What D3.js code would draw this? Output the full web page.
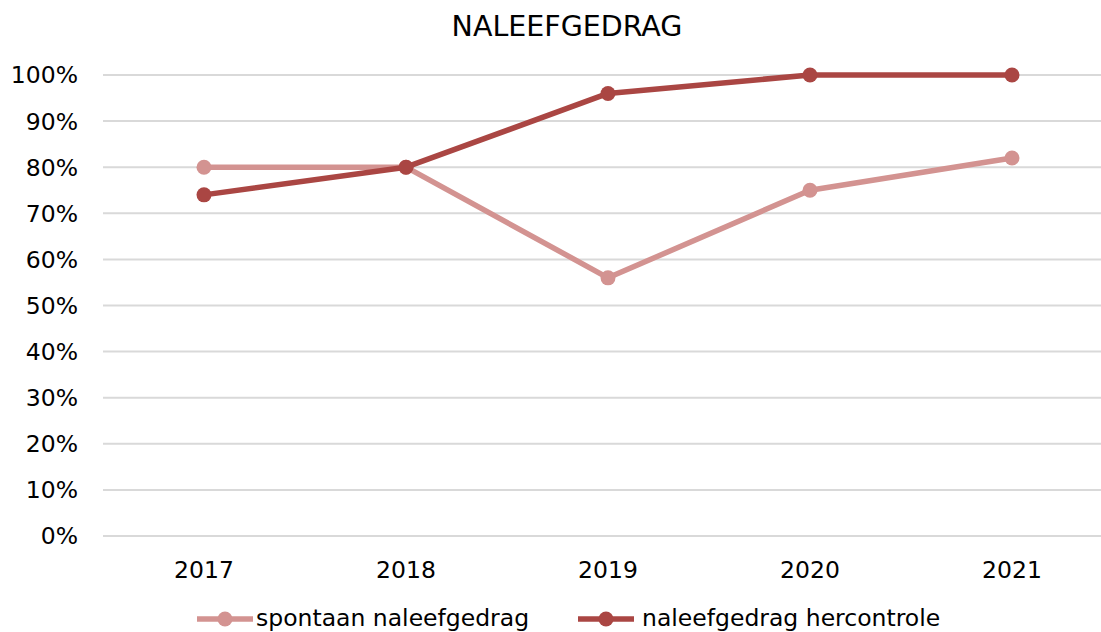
<!DOCTYPE html>
<html>
<head>
<meta charset="utf-8">
<script src="https://cdn.jsdelivr.net/npm/d3@7"></script>
<style>
  html, body { margin: 0; padding: 0; background: #fff; overflow: hidden; }
  svg { display: block; }
</style>
</head>
<body>
<script>
const title = "NALEEFGEDRAG";
const years = ["2017", "2018", "2019", "2020", "2021"];
const spontaan = [80, 80, 56, 75, 82];
const hercontrole = [74, 80, 96, 100, 100];
const yTicks = [0, 10, 20, 30, 40, 50, 60, 70, 80, 90, 100];
const seriesNames = ["spontaan naleefgedrag", "naleefgedrag hercontrole"];
const seriesColors = ["#D39391", "#AA4643"];

const W = 1101, H = 632;
const svg = d3.select("body").append("svg").attr("width", W).attr("height", H);

const x = d3.scaleBand().domain(years).range([103, 1113]);
const y = d3.scaleLinear().domain([0, 100]).range([536, 75]);

const font = "DejaVu Sans, Verdana, sans-serif";
const fs = 23.5;

// gridlines
svg.append("g").selectAll("line").data(yTicks).join("line")
  .attr("x1", 103).attr("x2", W)
  .attr("y1", d => y(d)).attr("y2", d => y(d))
  .attr("stroke", "#d9d9d9").attr("stroke-width", 2);

// y labels
svg.append("g").selectAll("text").data(yTicks).join("text")
  .attr("x", 78).attr("y", d => y(d))
  .attr("dy", "0.36em")
  .attr("text-anchor", "end")
  .attr("font-family", font).attr("font-size", fs).attr("fill", "#000")
  .text(d => d + "%");

// x labels
svg.append("g").selectAll("text").data(years).join("text")
  .attr("x", d => x(d) + x.bandwidth() / 2).attr("y", 578)
  .attr("text-anchor", "middle")
  .attr("font-family", font).attr("font-size", fs).attr("fill", "#000")
  .text(d => d);

// title
svg.append("text").attr("x", 567).attr("y", 36)
  .attr("text-anchor", "middle")
  .attr("font-family", font).attr("font-size", 28.5).attr("fill", "#000")
  .text(title);

const line = d3.line().x((d, i) => x(years[i]) + x.bandwidth() / 2).y(d => y(d));
[spontaan, hercontrole].forEach((vals, si) => {
  const g = svg.append("g");
  g.append("path").attr("d", line(vals)).attr("fill", "none")
    .attr("stroke", seriesColors[si]).attr("stroke-width", 5.5).attr("stroke-linejoin", "round");
  g.selectAll("circle").data(vals).join("circle")
    .attr("cx", (d, i) => x(years[i]) + x.bandwidth() / 2)
    .attr("cy", d => y(d)).attr("r", 7.5).attr("fill", seriesColors[si]);
});

// legend
const legendItems = [{x: 197, tx: 256}, {x: 578, tx: 642}];
legendItems.forEach((it, i) => {
  const g = svg.append("g");
  g.append("line").attr("x1", it.x).attr("x2", it.x + 56).attr("y1", 619).attr("y2", 619)
    .attr("stroke", seriesColors[i]).attr("stroke-width", 5.5);
  g.append("circle").attr("cx", it.x + 28).attr("cy", 619).attr("r", 7.5).attr("fill", seriesColors[i]);
  g.append("text").attr("x", it.tx).attr("y", 626)
    .attr("font-family", font).attr("font-size", fs).attr("fill", "#000")
    .text(seriesNames[i]);
});
</script>
</body>
</html>
